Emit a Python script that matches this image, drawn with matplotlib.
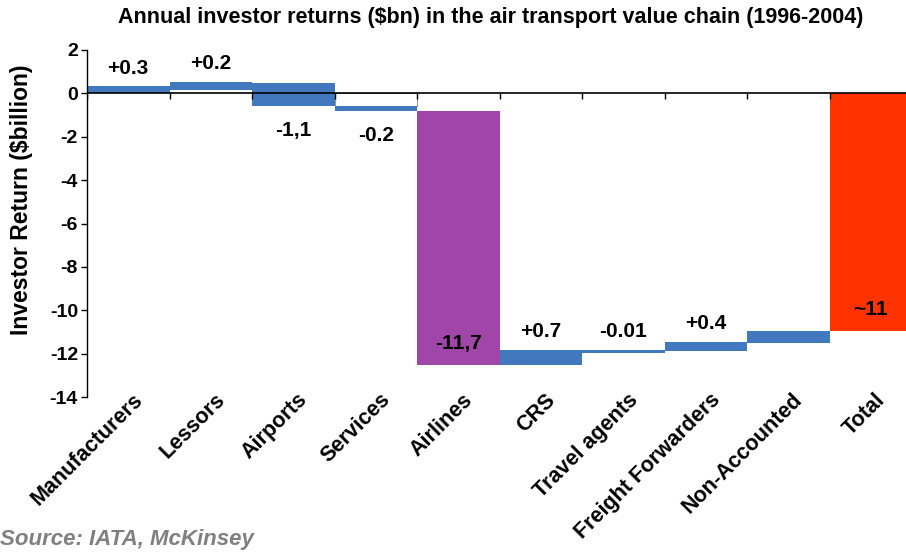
import numpy as np
import matplotlib.pyplot as plt
from matplotlib.ticker import FixedLocator, FuncFormatter
from matplotlib.transforms import ScaledTranslation

plt.rcParams['font.family'] = ['Liberation Sans', 'DejaVu Sans']
plt.rcParams['font.weight'] = 'bold'
plt.rcParams['axes.unicode_minus'] = False

categories = ['Manufacturers', 'Lessors', 'Airports', 'Services', 'Airlines', 'CRS',
              'Travel agents', 'Freight Forwarders', 'Non-Accounted', 'Total']
# floating bar ends ($bn)
bar_start = [0.0, 0.17, 0.47, -0.57, -0.82, -12.53, -11.84, -11.89, -11.5, 0.0]
bar_end = [0.32, 0.52, -0.6, -0.82, -12.53, -11.84, -11.97, -11.46, -10.97, -10.95]
value_labels = ['+0.3', '+0.2', '-1,1', '-0.2', '-11,7', '+0.7', '-0.01', '+0.4', '', '~11']
label_place = ['above', 'above', 'below', 'below', 'inside', 'above', 'above', 'above', '', 'inside']
yticks = list(range(-14, 3, 2))

blue = '#4178BE'
colors = [blue] * 10
colors[4] = '#A046A8'
colors[9] = '#FF3300'

fig = plt.figure(figsize=(9.06, 5.52), dpi=100)
ax = fig.add_axes([87 / 906, 155 / 552, 825 / 906, 347 / 552])

x = np.arange(len(categories))
lo = np.minimum(bar_start, bar_end)
hi = np.maximum(bar_start, bar_end)

# white base under Services with its thin grey outline
ax.bar(x[3], bar_start[3], width=1.0, bottom=0, color='white', edgecolor='#999999', linewidth=0.8, zorder=1)
ax.bar(x, hi - lo, bottom=lo, width=1.0, color=colors, linewidth=0, zorder=2)

ax.axhline(0, color='black', linewidth=1.2, zorder=3)
ax.vlines(np.arange(-0.5, len(categories)), -0.25, 0, color='black', linewidth=1, zorder=3)

for i, (txt, place) in enumerate(zip(value_labels, label_place)):
    if not txt:
        continue
    if place == 'above':
        y = hi[i] + 0.85
    elif place == 'below':
        y = lo[i] - 1.1
    else:
        y = lo[i] + 1.0
    ax.text(x[i], y, txt, ha='center', va='center', fontsize=15, fontweight='bold', zorder=4)

ax.set_xlim(-0.5, len(categories) - 0.5)
ax.set_ylim(-14, 2)
ax.yaxis.set_major_locator(FixedLocator(yticks))
ax.yaxis.set_major_formatter(FuncFormatter(lambda v, p: '%d' % v))
ax.tick_params(axis='y', length=4.5, width=1, pad=2, labelsize=14)

ax.set_xticks(x)
ax.set_xticklabels(categories, rotation=45, ha='right', rotation_mode='anchor', fontsize=15.5, fontweight='bold')
ax.tick_params(axis='x', length=0, pad=1)
offset = ScaledTranslation(4 / 100, 9 / 100, fig.dpi_scale_trans)
for lab in ax.get_xticklabels():
    lab.set_transform(lab.get_transform() + offset)

for s in ['top', 'right', 'bottom']:
    ax.spines[s].set_visible(False)
ax.spines['left'].set_linewidth(1)

fig.text(491 / 906, 1 - 17 / 552, 'Annual investor returns ($bn) in the air transport value chain (1996-2004)',
         ha='center', va='center', fontsize=15.5, fontweight='bold')
fig.text(22 / 906, 1 - 200 / 552, 'Investor Return ($billion)', rotation=90,
         ha='center', va='center', fontsize=16.5, fontweight='bold')
fig.text(0.0, 1 - 540 / 552, 'Source: IATA, McKinsey', ha='left', va='center',
         fontsize=16, fontweight='bold', style='italic', color='#808080')

fig.canvas.draw()
for t in ax.yaxis.get_major_ticks():
    t.label1.set_fontweight('bold')

fig.savefig('out.png', dpi=100)
